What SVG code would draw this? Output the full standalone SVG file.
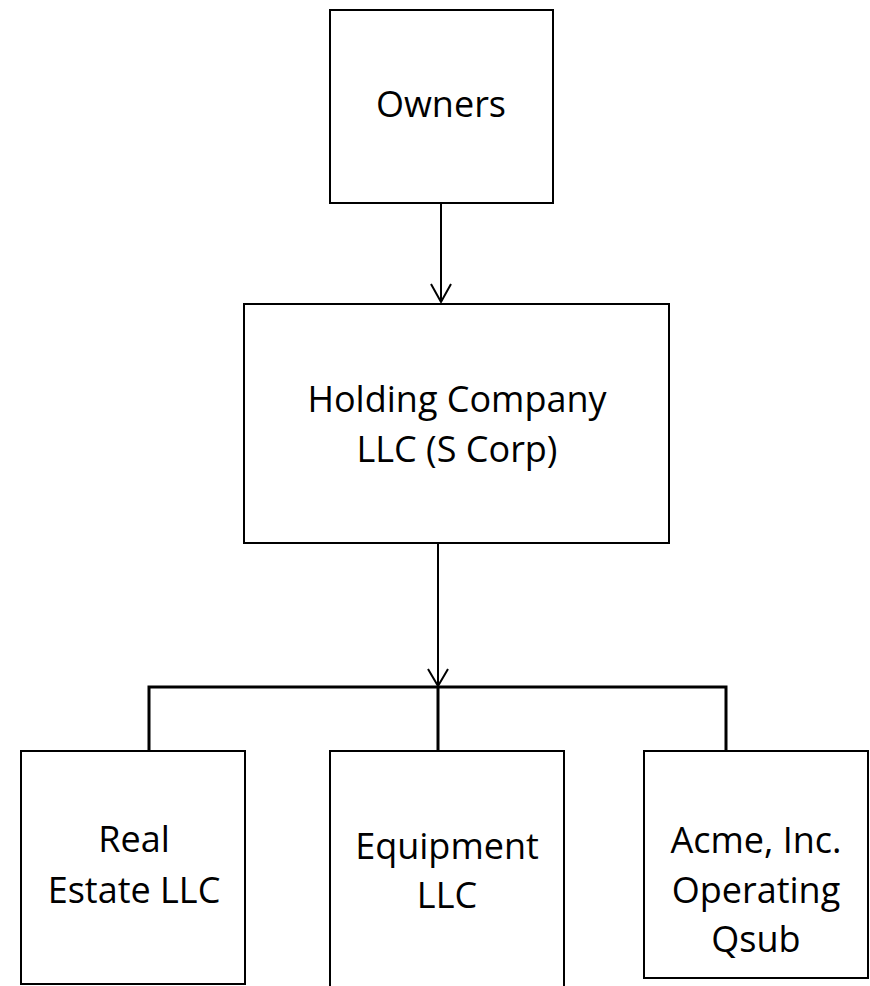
<svg xmlns="http://www.w3.org/2000/svg" width="870" height="986" viewBox="0 0 870 986">
  <style>
    .box { fill: #ffffff; stroke: #000000; stroke-width: 2; }
    .label { font-family: "Open Sans", "Noto Sans", sans-serif; font-size: 36px; fill: #000000; text-anchor: middle; }
    .arrow { stroke: #000000; stroke-width: 2; fill: none; }
    .tree { stroke: #000000; stroke-width: 3; fill: none; }
  </style>
  <rect width="870" height="986" fill="#ffffff"/>

  <g id="connectors">
    <!-- Owners to Holding Company -->
    <line class="arrow" x1="441" y1="203" x2="441" y2="302"/>
    <polyline class="arrow" points="431,284 441,302 451,284"/>
    <!-- Holding Company down to the distribution bar -->
    <line class="arrow" x1="438" y1="543" x2="438" y2="686"/>
    <polyline class="arrow" points="428,669 438,686 448,669"/>
    <!-- distribution bar and drops to subsidiaries -->
    <polyline class="tree" points="149,751 149,687 726,687 726,751"/>
    <line class="tree" x1="438" y1="687" x2="438" y2="751"/>
  </g>

  <g id="owners">
    <rect class="box" x="330" y="10" width="223" height="193"/>
    <text class="label" x="441" y="117">Owners</text>
  </g>

  <g id="holding-company">
    <rect class="box" x="244" y="304" width="425" height="239"/>
    <text class="label" x="457" y="412">Holding Company</text>
    <text class="label" x="457" y="462">LLC (S Corp)</text>
  </g>

  <g id="real-estate">
    <rect class="box" x="21" y="751" width="224" height="233"/>
    <text class="label" x="134" y="852">Real</text>
    <text class="label" x="134" y="903">Estate LLC</text>
  </g>

  <g id="equipment">
    <rect class="box" x="330" y="751" width="234" height="245"/>
    <text class="label" x="447" y="859">Equipment</text>
    <text class="label" x="447" y="908">LLC</text>
  </g>

  <g id="acme">
    <rect class="box" x="644" y="751" width="224" height="227"/>
    <text class="label" x="756" y="853">Acme, Inc.</text>
    <text class="label" x="756" y="903">Operating</text>
    <text class="label" x="756" y="952">Qsub</text>
  </g>
</svg>
